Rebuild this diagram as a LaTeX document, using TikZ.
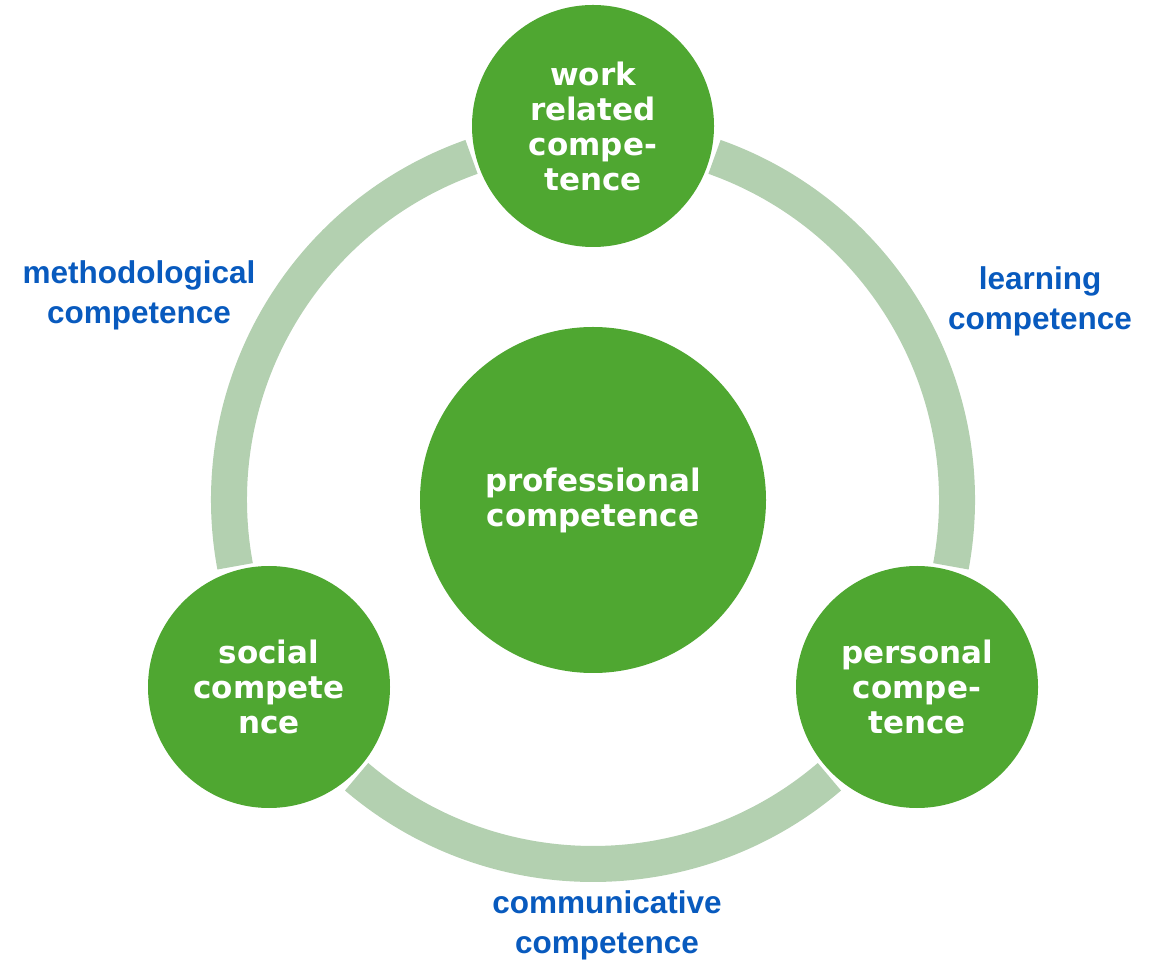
\documentclass[tikz,border=0pt]{standalone}
\usepackage{fontspec}
\newfontfamily\circfont{DejaVu Sans}
\newfontfamily\labfont{Liberation Sans}
\definecolor{cgreen}{RGB}{79,167,49}
\definecolor{cring}{RGB}{179,208,176}
\definecolor{cblue}{RGB}{8,90,190}
\begin{document}
\begin{tikzpicture}[x=1pt,y=1pt,
  comp/.style={circle,fill=cgreen,text=white,inner sep=0pt,align=center,
    font=\circfont\bfseries\fontsize{31}{35}\selectfont},
  small/.style={comp,minimum size=242pt},
  big/.style={comp,minimum size=346pt},
  lab/.style={text=cblue,align=center,inner sep=0pt,
    font=\labfont\bfseries\fontsize{31.5}{40}\selectfont},
  ringarc/.style={draw=cring,line width=36pt,line cap=butt}]
\useasboundingbox (0,0) rectangle (1158,961);
\coordinate (ctr) at (593,461);
\draw[ringarc] (ctr) ++(109.5:364) arc[start angle=109.5,end angle=190.5,radius=364];
\draw[ringarc] (ctr) ++(229.5:364) arc[start angle=229.5,end angle=310.5,radius=364];
\draw[ringarc] (ctr) ++(-10.5:364) arc[start angle=-10.5,end angle=70.5,radius=364];
\node[big] (prof) at (ctr) {professional\\competence};
\node[small] (work) at (593,835) {work\\related\\compe-\\tence};
\node[small] (soc) at (269,274) {social\\compete\\nce};
\node[small] (pers) at (917,274) {personal\\compe-\\tence};
\node[lab] (meth) at (139,666) {methodological\\competence};
\node[lab] (learn) at (1040,660) {learning\\competence};
\node[lab] (comm) at (607,36) {communicative\\competence};
\end{tikzpicture}
\end{document}
